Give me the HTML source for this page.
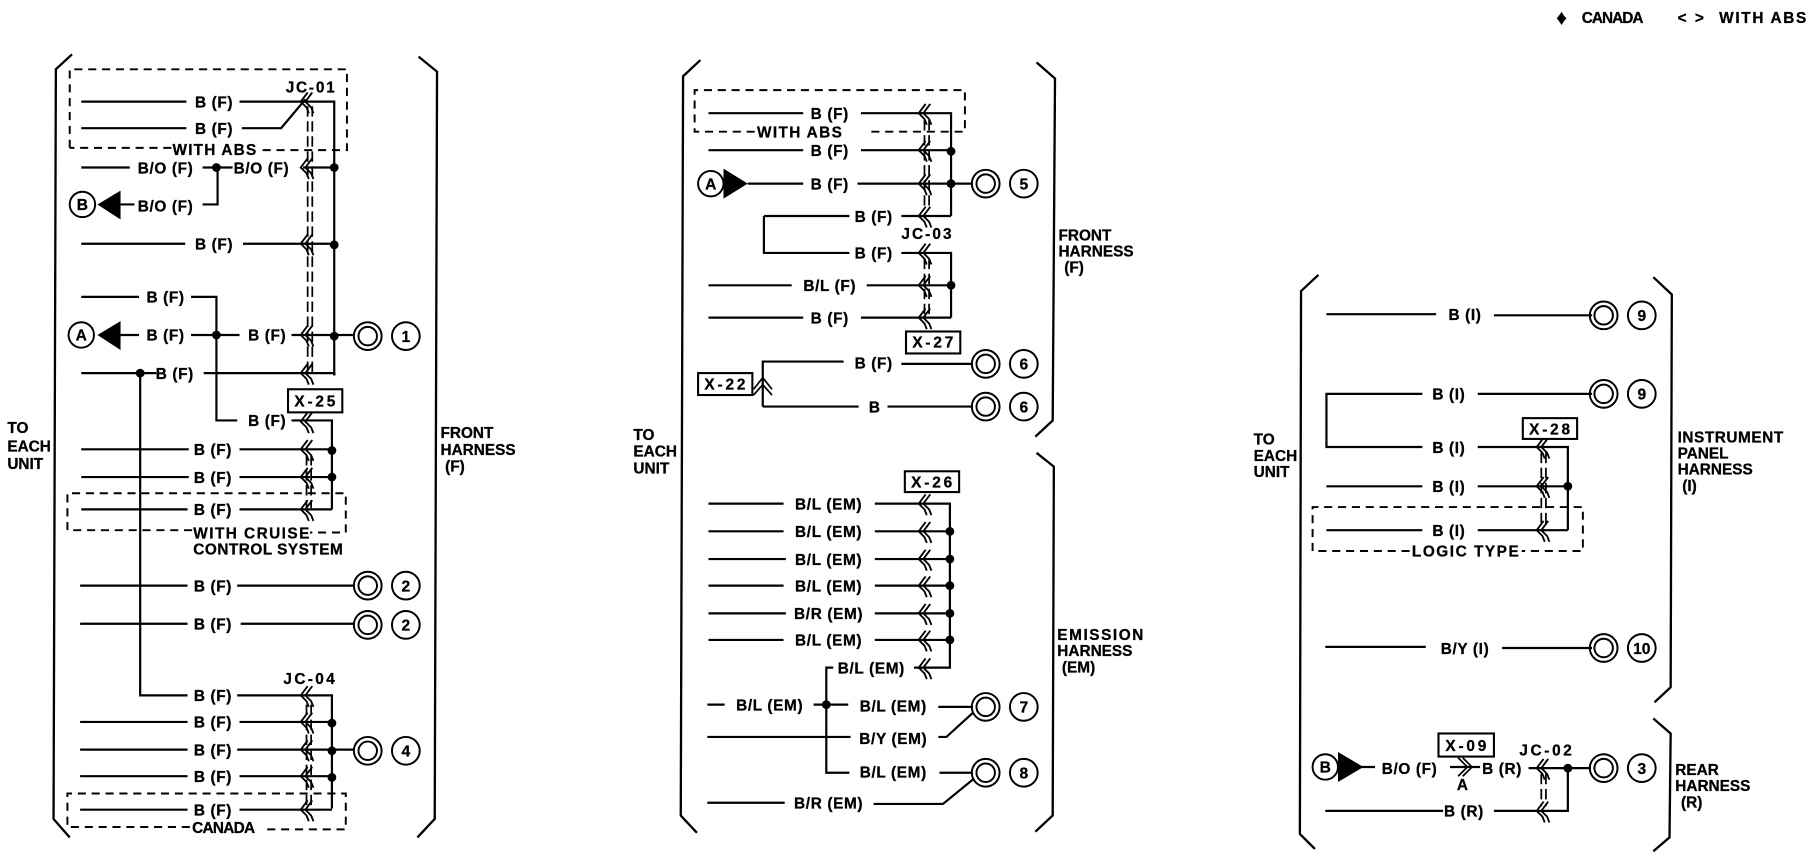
<!DOCTYPE html>
<html><head><meta charset="utf-8"><style>
html,body{margin:0;padding:0;background:#fff}
svg{display:block}
text{font-family:"Liberation Sans",sans-serif;font-weight:700;font-size:13.3px;letter-spacing:.55px;fill:#000;stroke:#000;stroke-width:.25}
.m{text-anchor:middle}
.h{letter-spacing:0}
.w{fill:none;stroke:#000;stroke-width:1.9;stroke-linejoin:miter}
.b{fill:none;stroke:#000;stroke-width:2}
.d{fill:none;stroke:#000;stroke-width:1.7;stroke-dasharray:7 5}
.v{fill:none;stroke:#000;stroke-width:1.5;stroke-dasharray:9 4}
.n{font-size:13.5px;letter-spacing:0;text-anchor:middle}
</style></head><body>
<svg xmlns="http://www.w3.org/2000/svg" width="1812" height="864" viewBox="0 0 1568 748">
<defs>
<g id="c" fill="none" stroke="#000" stroke-width="1.6"><path d="M6 -8L0 0L5 5L7 10"/><path d="M10 -8L4 0L9 5L11 10"/></g>
<g id="r" fill="none" stroke="#000"><circle r="12" stroke-width="1.7"/><circle r="8" stroke-width="1.7"/></g>
<circle id="o" r="3.8" fill="#000"/>
</defs>
<rect width="1568" height="748" fill="#fff"/>

<!-- brackets -->
<path class="b" d="M62 47L48 60L46 709L60 725M362 49L378 62L376 709L361 725"/>
<path class="b" d="M606 52L591 66L589 706L603 721M897 54L913 68L911 364L896 378M897 392L912 404L911 706L896 720"/>
<path class="b" d="M1141 238L1126 252L1125 722L1138 735M1431 240L1447 255L1446 595L1432 608M1431 622L1446 635L1445 725L1431 737"/>

<!-- dashed boxes -->
<path class="d" d="M60 128V60H300V130H222M148 128H60"/>
<path class="d" d="M166 459H58V427H299V461H268"/>
<path class="d" d="M164 716H58V687H299V718H227"/>
<path class="d" d="M653 114H601V78H835V114H750"/>
<path class="d" d="M1220 477H1136V439H1370V477H1317"/>

<!-- dashed double verticals -->
<path class="v" d="M266 92V322M270 92V322M265 394V440M269 394V440M265 610V698M269 610V698"/>
<path class="v" d="M800 104V182M804 104V182M800 224V272M804 224V272"/>
<path class="v" d="M1334 392V456M1338 392V456M1334 670V698M1338 670V698"/>

<!-- panel 1 wires -->
<path class="w" d="M70 88H161M207 88H289V325M70 111H161M209 111H243L264 86"/>
<path class="w" d="M70 145H112M175 145H201M188 145V177H175M104 177H116M262 145H289"/>
<path class="w" d="M70 211H160M210 211H289"/>
<path class="w" d="M70 257H120M165 257H187V364H205M104 290H120M165 290H207M252 290H306M70 323H135M176 323H289V325"/>
<path class="w" d="M121 323V602H162M252 364H287V441M70 389H163M207 389H287M70 413H163M207 413H287M70 441H162M207 441H287"/>
<path class="w" d="M69 507H162M205 507H306M69 540H162M208 540H306"/>
<path class="w" d="M205 602H287V700M69 625H162M207 625H287M69 649H162M205 649H306M69 672H162M207 672H287M69 701H162M207 701H287"/>

<!-- panel 2 wires -->
<path class="w" d="M613 98H695M745 98H823V187M613 130H695M745 130H823M647 159H695M742 159H842M661 187H735M780 187H823M661 187V219H735M780 219H823V275M613 247H685M750 247H823M613 275H695M745 275H823"/>
<path class="w" d="M660 352V313H730M780 315H842M660 352H743M768 352H842"/>
<path class="w" d="M613 436H678M757 436H822V578H791M613 460H678M757 460H822M613 484H680M757 484H822M613 507H678M757 507H822M613 531H680M757 531H822M613 554H678M757 554H822"/>
<path class="w" d="M721 578H715V669H735M612 610H627M704 610H734M812 612H842M612 638H736M812 638H819L842 617M813 669H842M612 695H679M756 696H816L843 674"/>

<!-- panel 3 wires -->
<path class="w" d="M1148 272H1243M1293 273H1378M1231 341H1148V387H1231M1279 341H1378M1279 387H1357V459M1148 421H1231M1279 421H1357M1148 459H1231M1279 459H1357"/>
<path class="w" d="M1147 560H1234M1300 561H1378M1170 664H1190M1255 664H1281M1323 665H1377M1147 702H1249M1293 702H1357V665"/>
<path fill="none" stroke="#000" stroke-width="1.5" d="M1262 656L1270 664L1262 672M1266 656L1274 664L1266 672"/>

<!-- triangles & badges -->
<path d="M84 177L104 165V190ZM84 290L104 278V303ZM626 146L647 159L626 172ZM1158 651L1180 664L1158 677Z" fill="#000"/>
<g fill="#fff" stroke="#000" stroke-width="1.7"><circle cx="71" cy="177" r="11"/><circle cx="70" cy="290" r="11"/><circle cx="615" cy="159" r="11"/><circle cx="1147" cy="664" r="11"/></g>
<text class="n" x="71" y="182">B</text><text class="n" x="70" y="295">A</text><text class="n" x="615" y="164">A</text><text class="n" x="1147" y="669">B</text>

<!-- chevrons -->
<use href="#c" x="260" y="88"/><use href="#c" x="260" y="145"/><use href="#c" x="260" y="211"/><use href="#c" x="260" y="290"/><use href="#c" x="260" y="323"/><use href="#c" x="260" y="365"/><use href="#c" x="260" y="389"/><use href="#c" x="260" y="413"/><use href="#c" x="260" y="441"/><use href="#c" x="260" y="602"/><use href="#c" x="260" y="625"/><use href="#c" x="260" y="649"/><use href="#c" x="260" y="672"/><use href="#c" x="260" y="701"/>
<use href="#c" x="795" y="98"/><use href="#c" x="795" y="130"/><use href="#c" x="795" y="159"/><use href="#c" x="795" y="187"/><use href="#c" x="795" y="219"/><use href="#c" x="795" y="247"/><use href="#c" x="795" y="275"/>
<use href="#c" x="795" y="436"/><use href="#c" x="795" y="460"/><use href="#c" x="795" y="484"/><use href="#c" x="795" y="507"/><use href="#c" x="795" y="531"/><use href="#c" x="795" y="554"/><use href="#c" x="795" y="578"/>
<use href="#c" x="1330" y="387"/><use href="#c" x="1330" y="421"/><use href="#c" x="1330" y="459"/><use href="#c" x="1330" y="665"/><use href="#c" x="1330" y="702"/>
<path fill="none" stroke="#000" stroke-width="1.5" d="M652 337L660 327L668 337M652 342L660 333L668 342"/>

<!-- junction dots -->
<use href="#o" x="187" y="145"/><use href="#o" x="289" y="145"/><use href="#o" x="289" y="212"/><use href="#o" x="187" y="290"/><use href="#o" x="289" y="291"/><use href="#o" x="121" y="323"/><use href="#o" x="287" y="390"/><use href="#o" x="287" y="413"/><use href="#o" x="287" y="626"/><use href="#o" x="287" y="650"/><use href="#o" x="287" y="673"/>
<use href="#o" x="823" y="131"/><use href="#o" x="823" y="159"/><use href="#o" x="823" y="247"/>
<use href="#o" x="822" y="460"/><use href="#o" x="822" y="484"/><use href="#o" x="822" y="507"/><use href="#o" x="822" y="531"/><use href="#o" x="822" y="554"/><use href="#o" x="715" y="610"/>
<use href="#o" x="1357" y="421"/><use href="#o" x="1357" y="665"/>

<!-- rings -->
<use href="#r" x="318" y="291"/><use href="#r" x="318" y="507"/><use href="#r" x="318" y="541"/><use href="#r" x="318" y="650"/>
<use href="#r" x="853" y="159"/><use href="#r" x="853" y="315"/><use href="#r" x="853" y="352"/><use href="#r" x="853" y="612"/><use href="#r" x="853" y="669"/>
<use href="#r" x="1388" y="273"/><use href="#r" x="1388" y="341"/><use href="#r" x="1388" y="561"/><use href="#r" x="1388" y="665"/>

<!-- number circles -->
<g fill="none" stroke="#000" stroke-width="1.7">
<circle cx="351" cy="291" r="12"/><circle cx="351" cy="507" r="12"/><circle cx="351" cy="541" r="12"/><circle cx="351" cy="650" r="12"/>
<circle cx="886" cy="159" r="12"/><circle cx="886" cy="315" r="12"/><circle cx="886" cy="352" r="12"/><circle cx="886" cy="612" r="12"/><circle cx="886" cy="669" r="12"/>
<circle cx="1421" cy="273" r="12"/><circle cx="1421" cy="341" r="12"/><circle cx="1421" cy="561" r="12"/><circle cx="1421" cy="665" r="12"/>
</g>
<text class="n" x="351" y="296">1</text><text class="n" x="351" y="512">2</text><text class="n" x="351" y="546">2</text><text class="n" x="351" y="655">4</text>
<text class="n" x="886" y="164">5</text><text class="n" x="886" y="320">6</text><text class="n" x="886" y="357">6</text><text class="n" x="886" y="617">7</text><text class="n" x="886" y="674">8</text>
<text class="n" x="1421" y="278">9</text><text class="n" x="1421" y="346">9</text><text class="n" x="1421" y="566">10</text><text class="n" x="1421" y="670">3</text>

<!-- connector boxes -->
<g fill="#fff" stroke="#000" stroke-width="1.8"><rect x="249" y="337" width="47" height="20"/><rect x="784" y="287" width="47" height="19"/><rect x="604" y="323" width="47" height="19"/><rect x="783" y="408" width="47" height="18"/><rect x="1318" y="362" width="47" height="18"/><rect x="1245" y="635" width="48" height="20"/></g>
<text x="254.500" y="352" textLength="36">X-25</text><text x="789.500" y="301" textLength="36">X-27</text><text x="609.500" y="337" textLength="36">X-22</text><text x="788.500" y="422" textLength="36">X-26</text><text x="1323.500" y="376" textLength="36">X-28</text><text x="1251" y="650" textLength="36">X-09</text>

<!-- panel 1 labels -->
<text class="m" x="185" y="93">B (F)</text><text class="m" x="185" y="116">B (F)</text>
<text x="247" y="80" textLength="43">JC-01</text>
<text x="149" y="134" textLength="73">WITH ABS</text>
<text class="m" x="143" y="150">B/O (F)</text><text class="m" x="226" y="150">B/O (F)</text><text class="m" x="143" y="183">B/O (F)</text>
<text class="m" x="185" y="216">B (F)</text><text class="m" x="143" y="262">B (F)</text><text class="m" x="143" y="295">B (F)</text><text class="m" x="231" y="295">B (F)</text><text class="m" x="151" y="328">B (F)</text><text class="m" x="231" y="369">B (F)</text>
<text class="m" x="184" y="394">B (F)</text><text class="m" x="184" y="418">B (F)</text><text class="m" x="184" y="446">B (F)</text>
<text x="167" y="466" textLength="101">WITH CRUISE</text><text x="167" y="480" textLength="130">CONTROL SYSTEM</text>
<text class="m" x="184" y="512">B (F)</text><text class="m" x="184" y="545">B (F)</text>
<text x="245" y="592" textLength="45">JC-04</text>
<text class="m" x="184" y="607">B (F)</text><text class="m" x="184" y="630">B (F)</text><text class="m" x="184" y="654">B (F)</text><text class="m" x="184" y="677">B (F)</text><text class="m" x="184" y="706">B (F)</text>
<text x="166" y="721" textLength="55">CANADA</text>
<text class="h" x="6" y="375">TO</text><text class="h" x="6" y="391">EACH</text><text class="h" x="6" y="406">UNIT</text>
<text class="h" x="381" y="379">FRONT</text><text class="h" x="381" y="394">HARNESS</text><text class="h" x="385" y="408">(F)</text>

<!-- panel 2 labels -->
<text class="m" x="718" y="103">B (F)</text><text x="655" y="119" textLength="74">WITH ABS</text>
<text class="m" x="718" y="135">B (F)</text><text class="m" x="718" y="164">B (F)</text><text class="m" x="756" y="192">B (F)</text>
<text x="780" y="207" textLength="44">JC-03</text>
<text class="m" x="756" y="224">B (F)</text><text class="m" x="718" y="252">B/L (F)</text><text class="m" x="718" y="280">B (F)</text>
<text class="m" x="756" y="319">B (F)</text><text class="m" x="757" y="357">B</text>
<text class="h" x="548" y="381">TO</text><text class="h" x="548" y="395">EACH</text><text class="h" x="548" y="410">UNIT</text>
<text class="h" x="916" y="208">FRONT</text><text class="h" x="916" y="222">HARNESS</text><text class="h" x="921" y="236">(F)</text>
<text class="m" x="717" y="441">B/L (EM)</text><text class="m" x="717" y="465">B/L (EM)</text><text class="m" x="717" y="489">B/L (EM)</text><text class="m" x="717" y="512">B/L (EM)</text><text class="m" x="717" y="536">B/R (EM)</text><text class="m" x="717" y="559">B/L (EM)</text>
<text class="m" x="754" y="583">B/L (EM)</text>
<text class="m" x="666" y="615">B/L (EM)</text><text class="m" x="773" y="616">B/L (EM)</text><text class="m" x="773" y="644">B/Y (EM)</text><text class="m" x="773" y="673">B/L (EM)</text><text class="m" x="717" y="700">B/R (EM)</text>
<text x="915" y="554" textLength="75">EMISSION</text><text class="h" x="915" y="568">HARNESS</text><text class="h" x="919" y="582">(EM)</text>

<!-- panel 3 labels -->
<text class="m" x="1268" y="277">B (I)</text><text class="m" x="1254" y="346">B (I)</text><text class="m" x="1254" y="392">B (I)</text><text class="m" x="1254" y="426">B (I)</text><text class="m" x="1254" y="464">B (I)</text>
<text x="1222" y="482" textLength="93">LOGIC TYPE</text>
<text class="m" x="1268" y="566">B/Y (I)</text>
<text class="m" x="1220" y="670">B/O (F)</text><text class="m" x="1300" y="670">B (R)</text><text class="m" x="1266" y="684">A</text><text x="1315" y="654" textLength="46">JC-02</text><text class="m" x="1267" y="707">B (R)</text>
<text class="h" x="1085" y="385">TO</text><text class="h" x="1085" y="399">EACH</text><text class="h" x="1085" y="413">UNIT</text>
<text x="1452" y="383" textLength="92">INSTRUMENT</text><text class="h" x="1452" y="397">PANEL</text><text class="h" x="1452" y="411">HARNESS</text><text class="h" x="1456" y="425">(I)</text>
<text class="h" x="1450" y="671">REAR</text><text class="h" x="1450" y="685">HARNESS</text><text class="h" x="1455" y="699">(R)</text>

<!-- legend -->
<text x="1347" y="21" style="font-size:18px">♦</text><text x="1369" y="20" textLength="54">CANADA</text><text x="1452" y="20">&lt;</text><text x="1467" y="20">&gt;</text><text x="1488" y="20" textLength="76">WITH ABS</text>
</svg>
</body></html>
